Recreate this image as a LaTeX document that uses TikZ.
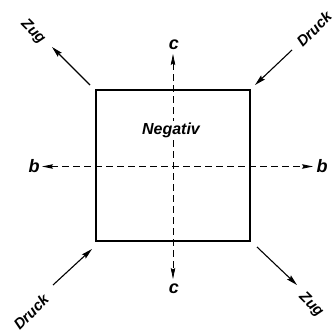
\documentclass[tikz,border=0pt]{standalone}
\usepackage{fontspec}
\setmainfont{Liberation Sans}
\usetikzlibrary{arrows.meta}
\begin{document}
\begin{tikzpicture}[x=1pt,y=-1pt,
  lbl/.style={font=\bfseries\itshape\fontsize{15}{15}\selectfont, inner sep=0pt},
  axlbl/.style={font=\bfseries\itshape\fontsize{18}{18}\selectfont, inner sep=0pt},
  force/.style={line width=1.1pt, -{Stealth[length=11pt,width=5.5pt,inset=1.5pt]}},
  axis/.style={line width=0.8pt, dash pattern=on 7pt off 4pt,
     {Stealth[length=11pt,width=4.5pt,inset=1.5pt]}-{Stealth[length=11pt,width=4.5pt,inset=1.5pt]}},
  box/.style={draw, line width=1.5pt, minimum width=154pt, minimum height=151pt, inner sep=0pt}]
\useasboundingbox (0,0) rectangle (335,335);
% axes
\coordinate (bl) at (42,166.5);
\coordinate (br) at (313,166.5);
\coordinate (ct) at (173,54);
\coordinate (cb) at (173,279);
\draw[axis] (bl) -- (br);
\draw[axis] (ct) -- (cb);
\node[axlbl] (blab) at (34,166) {b};
\node[axlbl] (brlab) at (322,166) {b};
\node[axlbl] (ctlab) at (174,45) {c};
\node[axlbl] (cblab) at (174,289) {c};
% square
\node[box] (sq) at (173,165.5) {};
\node[lbl, font=\bfseries\itshape\fontsize{16}{16}\selectfont, fill=white, inner sep=1.5pt] (neg) at (171,130) {Negativ};
% forces
\coordinate (tlT) at (90,85);  \coordinate (tlH) at (52,47);
\coordinate (trT) at (292,50); \coordinate (trH) at (255,85);
\coordinate (blT) at (53,285); \coordinate (blH) at (92,249);
\coordinate (brT) at (257,247);\coordinate (brH) at (297,285);
\draw[force] (tlT) -- (tlH);
\draw[force] (trT) -- (trH);
\draw[force] (blT) -- (blH);
\draw[force] (brT) -- (brH);
\node[lbl, rotate=-45] (zug1) at (33,32) {Zug};
\node[lbl, rotate=45] (druck1) at (314,29) {Druck};
\node[lbl, rotate=45] (druck2) at (31,312) {Druck};
\node[lbl, rotate=-45] (zug2) at (311,305) {Zug};
\end{tikzpicture}
\end{document}
